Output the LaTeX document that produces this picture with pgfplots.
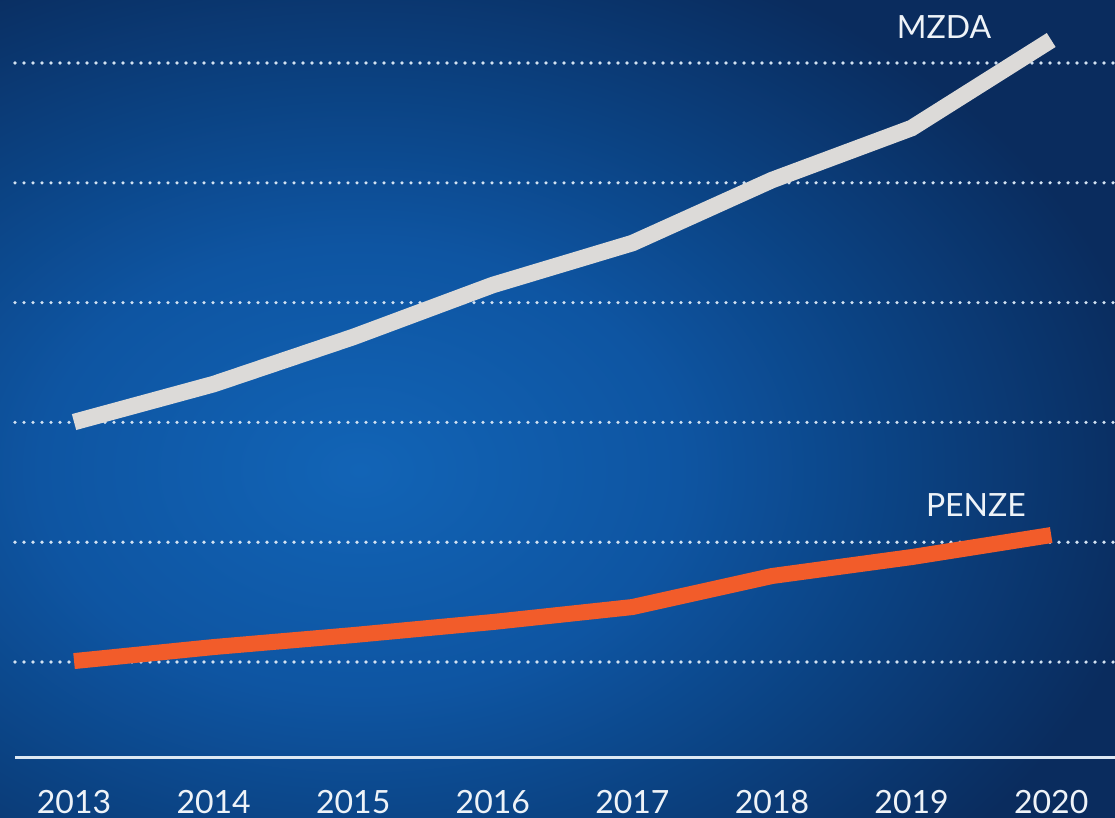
\documentclass[border=0pt]{standalone}
\usepackage{fontspec}
\setmainfont{Lato}
\usepackage{pgfplots}
\pgfplotsset{compat=1.18}
\definecolor{bgA}{HTML}{1264B6}
\definecolor{bgB}{HTML}{0E55A2}
\definecolor{bgC}{HTML}{0B4282}
\definecolor{bgD}{HTML}{0A2C5E}
\definecolor{mzdac}{HTML}{DCDAD8}
\definecolor{penzec}{HTML}{F25C2A}
\definecolor{labc}{HTML}{EEF3F8}
\definecolor{gridc}{HTML}{D2E2F2}
\definecolor{axisc}{HTML}{DDE8F3}
\pgfdeclareradialshading{bgshade}{\pgfpoint{0bp}{0bp}}{color(0bp)=(bgA); color(10bp)=(bgB); color(17bp)=(bgC); color(25bp)=(bgD); color(50bp)=(bgD)}

\pgfplotstableread{
year mzda penze
2013 3.003 1.008
2014 3.320 1.125
2015 3.713 1.225
2016 4.147 1.334
2017 4.497 1.459
2018 5.023 1.718
2019 5.457 1.876
2020 6.192 2.060
}\datatable

\begin{document}
\begin{tikzpicture}
\begin{scope}
\clip (-15pt,-60pt) rectangle (1100pt,758pt);
\fill[bgD] (-15pt,-60pt) rectangle (1100pt,758pt);
\shade[shading=bgshade] (345pt,288pt) ellipse [x radius=800pt, y radius=560pt];
\end{scope}
\begin{axis}[
  scale only axis, width=1100pt, height=758pt,
  at={(0pt,0pt)}, anchor=south west,
  xmin=2012.577, xmax=2020.457, ymin=0.199, ymax=6.526,
  axis x line=bottom, axis y line=left,
  x axis line style={-, draw=axisc, line width=3pt},
  y axis line style={draw=none},
  xtick={2013,2014,2015,2016,2017,2018,2019,2020},
  xticklabels={2013,2014,2015,2016,2017,2018,2019,2020},
  ytick={1,2,3,4,5,6}, yticklabels={},
  major tick length=0pt,
  ymajorgrids,
  grid style={gridc, line width=3.6pt, line cap=round, dash pattern=on 0pt off 9pt},
  xticklabel style={font=\fontsize{32}{36}\selectfont, text=labc, anchor=base, yshift=-55pt},
  clip=false,
]
\addplot[mzdac, line width=16.5pt, line cap=butt, line join=miter, no marks] table[x=year, y=mzda] {\datatable};
\addplot[penzec, line width=16pt, line cap=butt, line join=miter, no marks] table[x=year, y=penze] {\datatable};
\node[font=\fontsize{32}{36}\selectfont, text=labc] at (axis cs:2019.232,6.30) {MZDA};
\node[font=\fontsize{32}{36}\selectfont, text=labc] at (axis cs:2019.461,2.31) {PENZE};
\end{axis}
\pgfresetboundingbox
\path[use as bounding box] (-15pt,-60pt) rectangle (1100pt,758pt);
\end{tikzpicture}
\end{document}
